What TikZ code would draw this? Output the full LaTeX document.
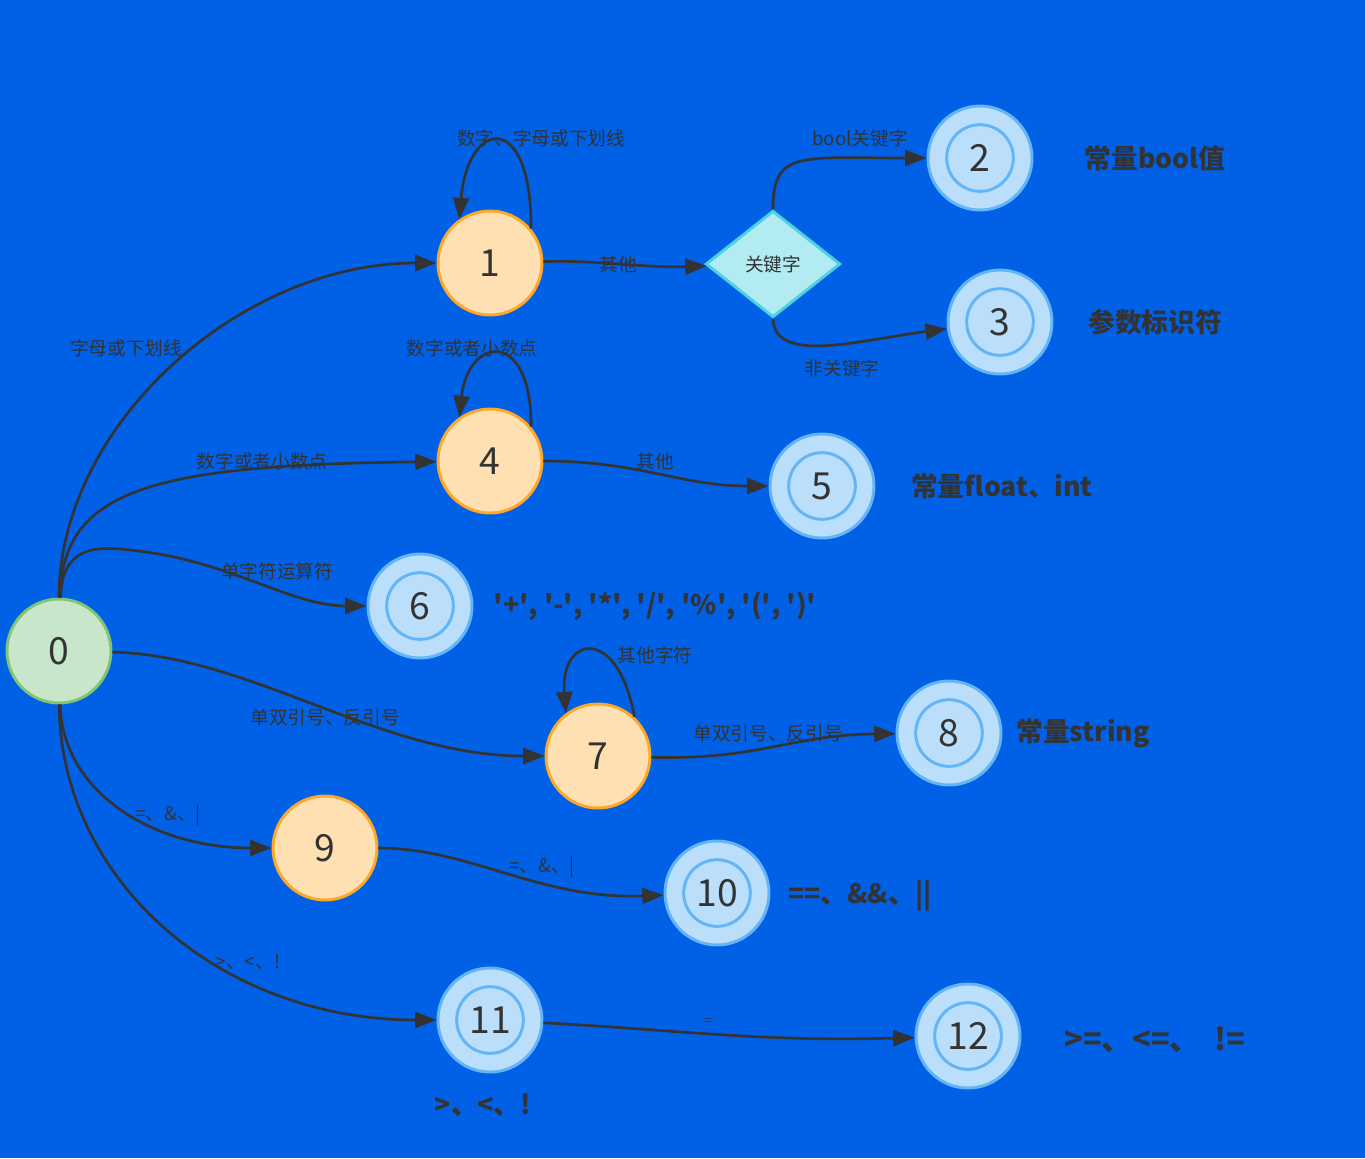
\documentclass[tikz,border=0pt]{standalone}
\usepackage{fontspec}
\setmainfont{Noto Sans CJK SC}
\usetikzlibrary{arrows.meta,shapes.geometric}
\definecolor{Bg}{RGB}{0,96,230}
\definecolor{Ink}{RGB}{51,51,51}
\definecolor{StartFill}{RGB}{200,230,201}
\definecolor{StartLine}{RGB}{130,196,114}
\definecolor{MidFill}{RGB}{255,224,178}
\definecolor{MidLine}{RGB}{255,167,38}
\definecolor{EndFill}{RGB}{187,222,251}
\definecolor{EndLine}{RGB}{100,181,246}
\definecolor{KeyFill}{RGB}{178,235,242}
\definecolor{KeyLine}{RGB}{77,208,225}

\begin{document}
\begin{tikzpicture}[x=0.75pt,y=-0.75pt,>={Triangle[length=16pt,width=12pt]},
  basestate/.style={circle,line width=2.2pt,minimum size=78pt,inner sep=0pt,text=Ink,font=\fontsize{28}{30}\selectfont},
  startstate/.style={basestate,fill=StartFill,draw=StartLine},
  midstate/.style={basestate,fill=MidFill,draw=MidLine},
  endstate/.style={basestate,fill=EndFill,draw=EndLine,
    path picture={\draw[EndLine,line width=2.2pt] (path picture bounding box.center) circle (25pt);}},
  keybox/.style={diamond,fill=KeyFill,draw=KeyLine,line width=2.2pt,minimum width=101pt,minimum height=80pt,
    inner sep=0pt,text=Ink,font=\fontsize{14}{16}\selectfont},
  lbl/.style={text=Ink,font=\fontsize{14}{16}\selectfont,inner sep=1pt},
  sym/.style={text=Ink,font=\fontsize{14}{16}\selectfont,inner sep=1pt},
  note/.style={text=Ink,font=\bfseries\fontsize{20}{24}\selectfont,inner sep=1pt},
  link/.style={draw=Ink,line width=2pt,->}]
  \fill[Bg] (0,0) rectangle (1365,1158);
  \useasboundingbox (0,0) rectangle (1365,1158);

  \node[startstate] (s0) at (59,651) {0};
  \node[midstate] (s1) at (490,263) {1};
  \node[midstate] (s4) at (490,461) {4};
  \node[midstate] (s7) at (598,756) {7};
  \node[midstate] (s9) at (325,848) {9};
  \node[endstate] (s2) at (980,158) {2};
  \node[endstate] (s3) at (1000,322) {3};
  \node[endstate] (s5) at (822,486) {5};
  \node[endstate] (s6) at (420,606) {6};
  \node[endstate] (s8) at (949,733) {8};
  \node[endstate] (s10) at (717,893) {10};
  \node[endstate] (s11) at (490,1020) {11};
  \node[endstate] (s12) at (968,1036) {12};
  \node[keybox] (kw) at (773,264) {关键字};

  \node[note] (n2) at (1155,158) {常量bool值};
  \node[note] (n3) at (1155,322) {参数标识符};
  \node[note] (n5) at (1002,486) {常量float、int};
  \node[note] (n6) at (655,606) {\textquotesingle+\textquotesingle, \textquotesingle-\textquotesingle, \textquotesingle*\textquotesingle, \textquotesingle/\textquotesingle, \textquotesingle\%\textquotesingle, \textquotesingle(\textquotesingle, \textquotesingle)\textquotesingle};
  \node[note] (n8) at (1083,733) {常量string};
  \node[note] (n10) at (860,896) {==、\&\&、||};
  \node[note,font=\bfseries\fontsize{23}{26}\selectfont] (n12) at (1155,1040) {>=、<=、\ \ !=};
  \node[note] (n11) at (483,1105) {>、<、!};

  \draw[link] (s0) .. controls (59,425) and (240,263) .. (s1);
  \draw[link] (s0) .. controls (62,490) and (150,465) .. (s4);
  \draw[link] (s0) .. controls (62,550) and (90,545) .. (130,550) .. controls (230,560) and (290,606) .. (s6);
  \draw[link] (s0) .. controls (250,655) and (380,756) .. (s7);
  \draw[link] (s0) .. controls (62,790) and (150,848) .. (s9);
  \draw[link] (s0) .. controls (60,880) and (220,1020) .. (s11);
  \draw[link] (s1.40) .. controls (532,110) and (468,118) .. (s1.125);
  \draw[link] (s4.40) .. controls (532,328) and (468,336) .. (s4.125);
  \draw[link] (s7.47) .. controls (618,625) and (560,635) .. (s7.127);
  \draw[link] (s1) .. controls (600,260) and (640,268) .. (kw);
  \draw[link] (kw.north) .. controls (773,150) and (800,158) .. (s2);
  \draw[link] (kw.south) .. controls (775,365) and (860,340) .. (s3);
  \draw[link] (s4) .. controls (640,461) and (680,486) .. (s5);
  \draw[link] (s7) .. controls (760,760) and (790,735) .. (s8);
  \draw[link] (s9) .. controls (470,848) and (540,900) .. (s10);
  \draw[link] (s11) .. controls (680,1030) and (760,1042) .. (s12);

  \node[lbl] (e11) at (541,138) {数字、字母或下划线};
  \node[lbl] (e1k) at (618,264) {其他};
  \node[lbl] (ek2) at (860,138) {bool关键字};
  \node[lbl] (ek3) at (842,368) {非关键字};
  \node[lbl] (e01) at (126,348) {字母或下划线};
  \node[lbl] (e44) at (472,348) {数字或者小数点};
  \node[lbl] (e04) at (262,461) {数字或者小数点};
  \node[lbl] (e45) at (655,461) {其他};
  \node[lbl] (e06) at (277,571) {单字符运算符};
  \node[lbl] (e77) at (655,655) {其他字符};
  \node[lbl] (e07) at (325,717) {单双引号、反引号};
  \node[lbl] (e78) at (768,733) {单双引号、反引号};
  \node[sym] (e09) at (168,815) {=、\&、|};
  \node[sym] (e910) at (542,867) {=、\&、|};
  \node[sym] (e011) at (248,962) {>、<、!};
  \node[sym,font=\fontsize{10}{11}\selectfont] (e1112) at (708,1022) {=};
\end{tikzpicture}
\end{document}
